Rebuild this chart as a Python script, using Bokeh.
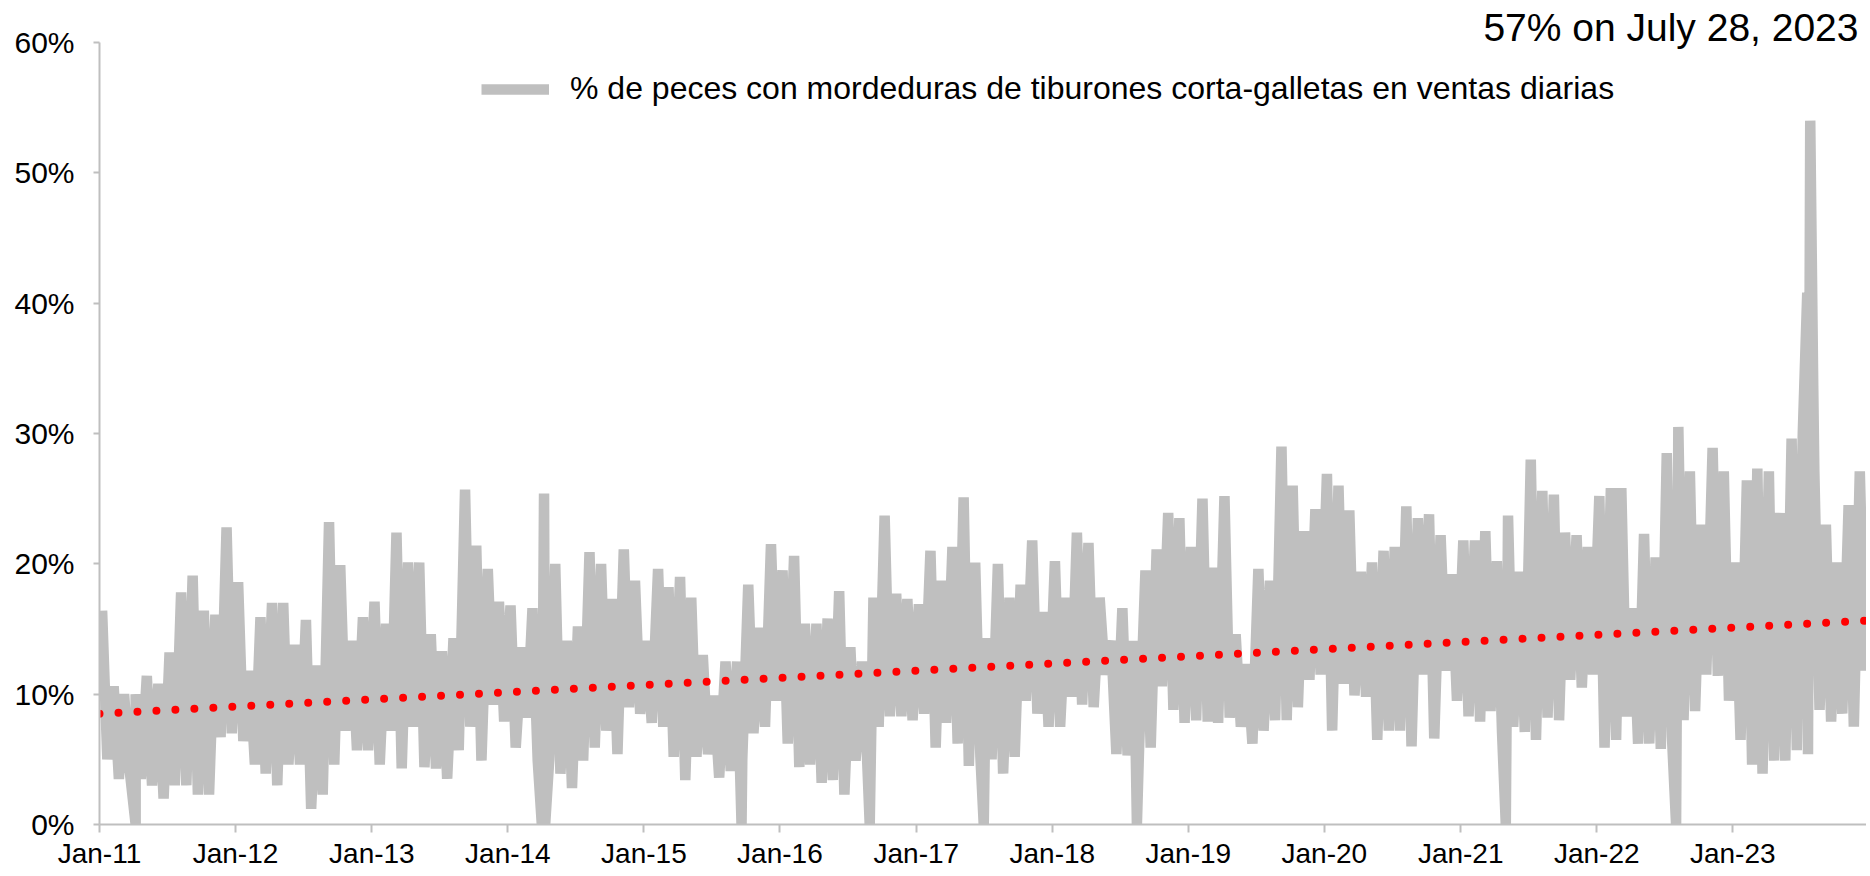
import datetime as dt
from bokeh.plotting import figure
from bokeh.models import (ColumnDataSource, FixedTicker, PrintfTickFormatter,
                          DatetimeTickFormatter, Legend, LegendItem, Label, Range1d)
from bokeh.embed import file_html
from bokeh.resources import INLINE

# ---------------- data (% values) ----------------
first_year = 2011
# monthly upper and lower swings of the daily series, Jan-2011 .. Dec-2023
monthly_high = [
    16.4, 10.6, 10.0, 10.0, 11.4, 10.8, 13.2, 17.8, 19.1, 16.4, 16.1, 22.8,   # 2011
    18.6, 11.8, 15.9, 17.0, 17.0, 13.8, 15.7, 12.2, 23.2, 19.9, 14.1, 15.9,   # 2012
    17.1, 15.4, 22.4, 20.1, 20.1, 14.6, 13.3, 14.3, 25.7, 21.4, 19.6, 17.1,   # 2013
    16.8, 13.6, 16.6, 25.4, 20.0, 14.1, 15.2, 20.9, 20.0, 17.3, 21.1, 18.7,   # 2014
    14.1, 19.6, 18.2, 19.0, 17.4, 13.0, 9.9, 12.5, 12.5, 18.4, 15.1, 21.5,    # 2015
    19.5, 20.6, 15.4, 15.4, 15.8, 17.9, 13.6, 12.5, 17.4, 23.7, 17.7, 17.3,   # 2016
    16.9, 21.0, 18.7, 21.3, 25.1, 20.1, 14.3, 20.0, 17.4, 18.4, 21.8, 16.3,   # 2017
    20.2, 17.4, 22.4, 21.6, 17.4, 14.1, 16.6, 14.1, 19.5, 21.1, 23.9, 23.5,   # 2018
    21.3, 25.0, 19.7, 25.2, 14.6, 12.3, 19.6, 18.7, 29.0, 26.0, 22.5, 24.2,   # 2019
    26.9, 26.0, 24.1, 19.4, 20.1, 21.0, 21.3, 24.4, 23.5, 23.8, 22.2, 19.2,   # 2020
    21.8, 21.8, 22.5, 20.2, 23.7, 19.4, 28.0, 25.6, 25.3, 22.4, 22.2, 21.3,   # 2021
    25.2, 25.8, 25.8, 16.6, 22.3, 20.5, 28.5, 30.5, 27.1, 23.0, 28.9, 27.1,   # 2022
    20.1, 26.4, 27.3, 27.1, 23.9, 29.6, 30.0, 27.1, 23.0, 20.1, 24.5, 27.1,   # 2023
]
monthly_low = [
    5.0, 3.5, 4.4, 3.5, 3.0, 2.0, 3.0, 3.0, 2.3, 2.3, 6.7, 7.0,              # 2011
    6.4, 4.6, 3.9, 3.0, 4.6, 4.6, 1.2, 2.3, 4.6, 7.2, 5.7, 5.7,              # 2012
    4.6, 7.2, 4.3, 7.5, 4.4, 4.3, 3.5, 5.7, 7.5, 4.9, 9.2, 7.9,              # 2013
    5.9, 8.2, 4.9, 5.0, 3.9, 2.8, 4.9, 5.9, 7.2, 5.4, 9.0, 8.5,              # 2014
    7.8, 7.5, 5.2, 3.4, 5.2, 5.4, 3.6, 4.1, 5.0, 7.0, 7.5, 9.5,              # 2015
    6.2, 4.4, 4.6, 3.2, 3.4, 2.3, 4.9, 5.0, 7.5, 8.3, 8.3, 8.0,              # 2016
    8.5, 5.9, 7.8, 6.2, 4.5, 5.2, 5.0, 3.9, 5.2, 9.5, 8.5, 7.5,              # 2017
    7.5, 9.8, 9.2, 9.0, 11.5, 5.4, 5.3, 6.0, 5.9, 10.6, 8.8, 7.8,            # 2018
    8.0, 7.9, 7.8, 8.2, 7.5, 6.2, 7.2, 8.0, 8.0, 9.0, 11.1, 11.5,            # 2019
    7.2, 10.8, 9.9, 9.8, 6.5, 7.2, 7.2, 6.0, 11.5, 6.6, 11.8, 9.5,           # 2020
    8.3, 7.9, 8.7, 7.0, 7.5, 7.1, 6.5, 8.2, 8.0, 11.1, 10.5, 11.5,           # 2021
    5.9, 6.5, 8.3, 6.2, 6.2, 5.8, 6.7, 8.0, 8.7, 11.5, 11.4, 9.5,            # 2022
    6.5, 4.6, 3.9, 4.9, 4.9, 5.7, 5.4, 8.8, 7.9, 8.5, 7.5, 11.8,             # 2023
]
# days on which the share dropped to 0 %
zero_days = ["2011-04-08", "2014-04-02", "2014-04-11", "2015-09-20", "2016-08-29",
             "2017-07-01", "2018-08-16", "2021-05-02", "2022-08-02"]
# the July 2023 spike
spike_days = ["2023-07-20", "2023-07-28", "2023-08-05"]
spike_values = [40.8, 54.0, 33.7]
# linear trend (red dotted)
trend_days = ["2011-01-01", "2023-12-31"]
trend_values = [8.5, 15.65]

tick_years = list(range(2011, 2024))
y_ticks = [0, 10, 20, 30, 40, 50, 60]
series_label = "% de peces con mordeduras de tiburones corta-galletas en ventas diarias"
note_text = "57% on July 28, 2023"

FONT = "Liberation Sans"
GRAY = "#BFBFBF"


def parse(s):
    return dt.datetime.strptime(s, "%Y-%m-%d")


rows = []
for i, (h, l) in enumerate(zip(monthly_high, monthly_low)):
    yr = first_year + i // 12
    mo = i % 12 + 1
    rows.append((dt.datetime(yr, mo, 8), h))
    rows.append((dt.datetime(yr, mo, 22), l))
for d in zero_days:
    rows.append((parse(d), 0.0))
for d, v in zip(spike_days, spike_values):
    rows.append((parse(d), v))
rows.sort()

src = ColumnDataSource(dict(date=[r[0] for r in rows], value=[r[1] for r in rows]))
trend_src = ColumnDataSource(dict(date=[parse(d) for d in trend_days], value=trend_values))

p = figure(width=1866, height=872, x_axis_type="datetime", title=None,
           output_backend="svg", toolbar_location=None,
           x_range=Range1d(dt.datetime(2011, 1, 1), dt.datetime(2023, 12, 26)),
           y_range=Range1d(0, 63.22),
           min_border_left=99, min_border_right=0, min_border_top=0, min_border_bottom=48)

p.xgrid.visible = False
p.ygrid.visible = False
p.outline_line_color = None
p.background_fill_color = "white"
p.border_fill_color = "white"

r_series = p.line(x="date", y="value", source=src, line_color=GRAY, line_width=10.5,
                  line_join="bevel")
p.line(x="date", y="value", source=trend_src, line_color="#FF0000", line_width=8,
       line_dash="0 19", line_cap="round")

# axes
xa = p.xaxis[0]
xa.ticker = FixedTicker(ticks=[dt.datetime(y, 1, 1).timestamp() * 1000 for y in tick_years])
fmt = "%b-%y"
xa.formatter = DatetimeTickFormatter(years=fmt, months=fmt, days=fmt, hours=fmt,
                                     minutes=fmt, seconds=fmt, milliseconds=fmt,
                                     microseconds=fmt, minsec=fmt, hourmin=fmt)
ya = p.yaxis[0]
ya.ticker = FixedTicker(ticks=y_ticks)
ya.formatter = PrintfTickFormatter(format="%d%%")
ya.bounds = (0, 60)

for ax in (xa, ya):
    ax.axis_line_color = GRAY
    ax.axis_line_width = 2
    ax.major_tick_line_color = GRAY
    ax.major_tick_line_width = 2
    ax.major_tick_in = 0
    ax.minor_tick_line_color = None
    ax.major_label_text_font = FONT
    ax.major_label_text_color = "#000000"
xa.major_label_text_font_size = "28px"
xa.major_tick_out = 8
xa.major_label_standoff = 5
ya.major_label_text_font_size = "30px"
ya.major_tick_out = 6
ya.major_label_standoff = 19

legend = Legend(items=[LegendItem(label=series_label, renderers=[r_series])],
                location=(382, 717), orientation="horizontal",
                glyph_width=68, glyph_height=12, label_standoff=21,
                label_text_font=FONT, label_text_font_size="32px",
                label_text_color="#000000", background_fill_alpha=0,
                border_line_alpha=0, padding=0, margin=0, spacing=0)
p.add_layout(legend)

note = Label(x=1759, y=797, x_units="screen", y_units="screen", text=note_text,
             text_align="right", text_baseline="middle", text_font=FONT,
             text_font_size="39px", text_color="#000000")
p.add_layout(note)

open("out.html", "w").write(file_html(p, INLINE))
